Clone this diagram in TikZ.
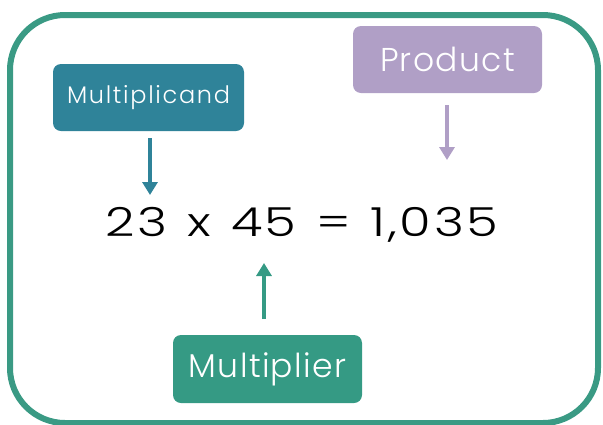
\documentclass[tikz,border=0pt]{standalone}
\usepackage{fontspec}
\setmainfont{Poppins Light}
\newfontfamily\lblfontA[LetterSpace=7]{Poppins Light}
\newfontfamily\lblfontB[LetterSpace=4]{Poppins Light}
\newfontfamily\eqfont[LetterSpace=5,WordSpace=1.2]{Poppins Light}
\usetikzlibrary{arrows.meta}
\definecolor{framec}{HTML}{3A9A84}
\definecolor{mcand}{HTML}{2F8399}
\definecolor{prodc}{HTML}{B09FC6}
\definecolor{mplier}{HTML}{359A84}
\begin{document}
\begin{tikzpicture}[x=1pt,y=-1pt,
  lbl/.style={rounded corners=8pt, text=white, inner sep=0pt, anchor=center},
  arr/.style={line width=4pt, -{Triangle[length=13pt,width=15pt]}}]
\useasboundingbox (0,0) rectangle (603,424);
\draw[framec, line width=6pt, rounded corners=55pt] (10,15) rectangle (598,423);
\node[lbl, fill=mcand, minimum width=191pt, minimum height=67pt, font=\lblfontA\fontsize{24}{28}\selectfont] (mc) at (148.5,97.5) {Multiplicand};
\node[lbl, fill=prodc, minimum width=189pt, minimum height=67pt, font=\lblfontB\fontsize{33}{36}\selectfont] (pr) at (447.5,59.5) {Product};
\node[lbl, fill=mplier, minimum width=189pt, minimum height=68pt, font=\lblfontB\fontsize{33}{36}\selectfont] (ml) at (267.5,369) {Multiplier};
\node[font=\eqfont\fontsize{40}{44}\selectfont, inner sep=0pt] (eq) at (302,225) {\scalebox{1.28}[1]{23 x 45 = 1,035}};
\coordinate (mcs) at (150,138);
\coordinate (mce) at (150,195);
\coordinate (prs) at (447,105);
\coordinate (pre) at (447,160);
\coordinate (mls) at (264,319);
\coordinate (mle) at (264,263);
\draw[arr, mcand] (mcs) -- (mce);
\draw[arr, prodc] (prs) -- (pre);
\draw[arr, mplier] (mls) -- (mle);
\end{tikzpicture}
\end{document}
